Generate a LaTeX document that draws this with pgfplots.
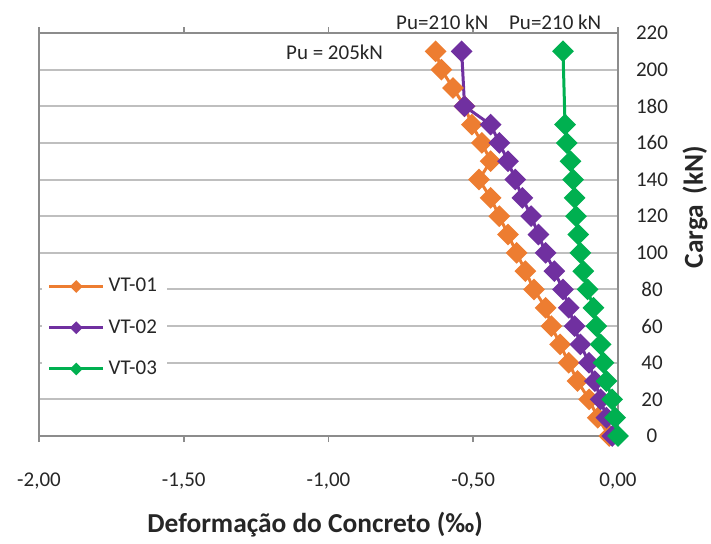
\documentclass[border=0pt]{standalone}
\usepackage{fontspec}
\setmainfont{Carlito}
\usepackage{pgfplots}
\pgfplotsset{compat=1.18}
\definecolor{c1}{HTML}{ED7D31}
\definecolor{c2}{HTML}{7030A0}
\definecolor{c3}{HTML}{00B050}
\definecolor{gridc}{HTML}{BFBFBF}
\definecolor{framec}{HTML}{8C8C8C}
\definecolor{txt}{HTML}{262626}
\begin{document}
\begin{tikzpicture}
\path[use as bounding box] (-19.5pt,-53.5pt) rectangle (336pt,218pt);
\begin{axis}[
  scale only axis, width=289.5pt, height=201.5pt,
  xmin=-2, xmax=0, ymin=0, ymax=220,
  clip=false,
  xtick={-2,-1.5,-1,-0.5,0},
  ytick={0,20,...,220},
  axis line style={framec, line width=0.9pt},
  ymajorgrids, grid style={gridc, line width=1pt},
  tick align=outside, major tick length=3pt,
  xtick style={framec, line width=0.8pt},
  ytick style={draw=none},
  yticklabel pos=right,
  /pgf/number format/assume math mode=true,
  xticklabel style={/pgf/number format/.cd, fixed, fixed zerofill, precision=2, use comma, /tikz/.cd, anchor=center, yshift=-19.5pt},
  yticklabel style={anchor=center, xshift=14pt},
  every tick label/.append style={font=\fontsize{10.5}{12}\selectfont, text=txt},
  xlabel={Deformação do Concreto (‰)},
  ylabel={Carga\, (kN)},
  xlabel style={at={(axis description cs:0.477,-0.221)}, anchor=center, font=\bfseries\fontsize{13.7}{15}\selectfont, text=txt},
  ylabel style={at={(axis description cs:1.133,0.568)}, anchor=center, rotate=0, font=\bfseries\fontsize{13.7}{15}\selectfont, text=txt},
  legend style={draw=none, fill=white, at={(axis description cs:0.004,0.12)}, anchor=south west, font=\fontsize{10.5}{12}\selectfont, text=txt, row sep=8.3pt, inner sep=3pt},
  legend cell align=left,
  legend image code/.code={\draw[#1, mark repeat=2, mark phase=2, mark size=1.5pt] plot coordinates {(0pt,0pt) (13.5pt,0pt) (27pt,0pt)};},
]
\addplot[c1, line width=1.5pt, mark=square*, mark size=3.1pt, mark options={rotate=45, solid}] coordinates {
(-0.03,0) (-0.07,10) (-0.10,20) (-0.14,30) (-0.17,40) (-0.20,50) (-0.23,60) (-0.25,70) (-0.29,80) (-0.32,90) (-0.35,100) (-0.38,110) (-0.41,120) (-0.44,130) (-0.48,140) (-0.44,150) (-0.47,160) (-0.505,170) (-0.53,180) (-0.57,190) (-0.61,200) (-0.63,210)
};
\addlegendentry{VT-01}
\addplot[c2, line width=1.5pt, mark=square*, mark size=3.1pt, mark options={rotate=45, solid}] coordinates {
(-0.02,0) (-0.04,10) (-0.06,20) (-0.08,30) (-0.10,40) (-0.13,50) (-0.15,60) (-0.17,70) (-0.19,80) (-0.22,90) (-0.25,100) (-0.275,110) (-0.30,120) (-0.33,130) (-0.355,140) (-0.38,150) (-0.41,160) (-0.44,170) (-0.53,180) (-0.54,210)
};
\addlegendentry{VT-02}
\addplot[c3, line width=1.5pt, mark=square*, mark size=3.1pt, mark options={rotate=45, solid}] coordinates {
(0,0) (-0.01,10) (-0.02,20) (-0.04,30) (-0.05,40) (-0.06,50) (-0.075,60) (-0.085,70) (-0.105,80) (-0.12,90) (-0.13,100) (-0.137,110) (-0.145,120) (-0.15,130) (-0.155,140) (-0.164,150) (-0.177,160) (-0.183,170) (-0.19,210)
};
\addlegendentry{VT-03}
\node[font=\fontsize{10.5}{12}\selectfont, text=txt] at (axis cs:-0.979,209.6) {Pu = 205kN};
\node[font=\fontsize{10.5}{12}\selectfont, text=txt] at (axis cs:-0.607,226) {Pu=210 kN};
\node[font=\fontsize{10.5}{12}\selectfont, text=txt] at (axis cs:-0.217,226) {Pu=210 kN};
\end{axis}
\end{tikzpicture}
\end{document}
